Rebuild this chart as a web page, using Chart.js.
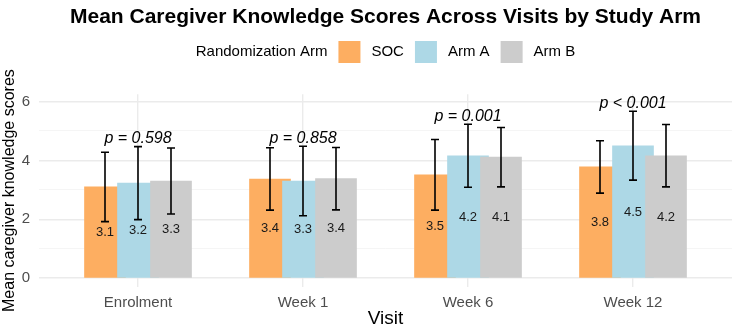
<!DOCTYPE html>
<html>
<head>
<meta charset="utf-8">
<script src="https://cdn.jsdelivr.net/npm/chart.js@4.4.1/dist/chart.umd.min.js"></script>
<style>
  html, body { margin: 0; padding: 0; background: #fff; }
  #wrap { width: 733px; height: 330px; }
</style>
</head>
<body>
<div id="wrap"><canvas id="chart" width="733" height="330"></canvas></div>
<script>
const visits = ["Enrolment", "Week 1", "Week 6", "Week 12"];
const arms = ["SOC", "Arm A", "Arm B"];
const armColors = ["#FDAE61", "#ADD8E6", "#CCCCCC"];

// mean scores per visit
const socMean = [3.10, 3.37, 3.51, 3.78];
const armAMean = [3.23, 3.30, 4.16, 4.50];
const armBMean = [3.30, 3.38, 4.11, 4.16];

// half-length of error bars (SD)
const socSd = [1.18, 1.06, 1.20, 0.89];
const armASd = [1.24, 1.18, 1.07, 1.17];
const armBSd = [1.12, 1.06, 1.01, 1.06];

const pLabels = ["p = 0.598", "p = 0.858", "p = 0.001", "p < 0.001"];

const yTicks = [0, 1, 2, 3, 4, 5, 6];

const FONT = "'Liberation Sans', Arial, sans-serif";
const means = [socMean, armAMean, armBMean];
const sds = [socSd, armASd, armBSd];
const dodge = [-0.2, 0, 0.2];

const datasets = arms.map((arm, i) => ({
  label: arm,
  data: means[i].map((m, j) => ({ x: j + 1 + dodge[i], y: m })),
  backgroundColor: armColors[i],
  borderWidth: 0,
  barThickness: 41,
  grouped: false,
  order: arms.length - i,
}));

// error bars, value labels and p-values
const annotations = {
  id: "annotations",
  afterDatasetsDraw(chart) {
    const ctx = chart.ctx;
    const y = chart.scales.y;
    const x = chart.scales.x;
    ctx.save();
    // error bars
    ctx.strokeStyle = "#000";
    ctx.lineWidth = 1.6;
    arms.forEach((arm, i) => {
      const meta = chart.getDatasetMeta(i);
      meta.data.forEach((el, j) => {
        const top = y.getPixelForValue(means[i][j] + sds[i][j]);
        const bot = y.getPixelForValue(means[i][j] - sds[i][j]);
        ctx.beginPath();
        ctx.moveTo(el.x, top);
        ctx.lineTo(el.x, bot);
        ctx.moveTo(el.x - 4, top);
        ctx.lineTo(el.x + 4, top);
        ctx.moveTo(el.x - 4, bot);
        ctx.lineTo(el.x + 4, bot);
        ctx.stroke();
      });
    });
    // value labels
    ctx.fillStyle = "#1a1a1a";
    ctx.font = "13px " + FONT;
    ctx.textAlign = "center";
    ctx.textBaseline = "middle";
    arms.forEach((arm, i) => {
      const meta = chart.getDatasetMeta(i);
      meta.data.forEach((el, j) => {
        ctx.fillText(means[i][j].toFixed(1), el.x, y.getPixelForValue(means[i][j] / 2));
      });
    });
    // p-values
    ctx.fillStyle = "#000";
    ctx.font = "italic 16px " + FONT;
    visits.forEach((v, j) => {
      const maxTop = Math.max(...arms.map((a, i) => means[i][j] + sds[i][j]));
      ctx.fillText(pLabels[j], x.getPixelForValue(j + 1), y.getPixelForValue(maxTop + 0.27));
    });
    ctx.restore();
  },
};

// ggplot-style legend: title, then key + label for each arm
const ggLegend = {
  id: "ggLegend",
  afterDraw(chart) {
    const ctx = chart.ctx;
    const area = chart.chartArea;
    const cy = 52;
    const key = 22;
    const gap = 11;
    ctx.save();
    ctx.font = "15px " + FONT;
    ctx.textBaseline = "middle";
    ctx.textAlign = "left";
    const title = "Randomization Arm";
    let total = ctx.measureText(title).width;
    chart.data.datasets.forEach((ds) => {
      total += gap + key + gap + ctx.measureText(ds.label).width;
    });
    let cx = (area.left + area.right) / 2 - total / 2;
    ctx.fillStyle = "#000";
    ctx.fillText(title, cx, cy);
    cx += ctx.measureText(title).width + gap;
    chart.data.datasets.forEach((ds) => {
      ctx.fillStyle = ds.backgroundColor;
      ctx.fillRect(cx, cy - key / 2, key, key);
      cx += key + gap;
      ctx.fillStyle = "#000";
      ctx.fillText(ds.label, cx, cy);
      cx += ctx.measureText(ds.label).width + gap;
    });
    ctx.restore();
  },
};

new Chart(document.getElementById("chart").getContext("2d"), {
  type: "bar",
  data: { datasets: datasets },
  options: {
    responsive: false,
    animation: false,
    layout: { padding: { top: 0, right: 1, bottom: 0, left: 0 } },
    plugins: {
      legend: { display: false },
      tooltip: { enabled: false },
      title: {
        display: true,
        fullSize: false,
        text: "Mean Caregiver Knowledge Scores Across Visits by Study Arm",
        color: "#000",
        font: { family: FONT, size: 21, weight: "bold" },
        padding: { top: 5, bottom: 64 },
      },
    },
    scales: {
      x: {
        type: "linear",
        min: 0.4,
        max: 4.6,
        offset: false,
        afterBuildTicks: (scale) => {
          scale.ticks = visits.map((v, i) => ({ value: i + 1 }));
        },
        afterFit: (scale) => {
          scale.height = 43;
        },
        ticks: {
          callback: (val) => visits[Math.round(val) - 1],
          color: "#4d4d4d",
          font: { family: FONT, size: 15 },
          padding: 7,
          maxRotation: 0,
          autoSkip: false,
        },
        grid: { color: "#ebebeb", lineWidth: 1.4, drawTicks: false, offset: false },
        border: { display: false },
        title: {
          display: true,
          text: "Visit",
          color: "#000",
          font: { family: FONT, size: 19 },
          padding: 0,
        },
      },
      y: {
        min: -0.3,
        max: 6.25,
        afterBuildTicks: (scale) => {
          scale.ticks = yTicks.map((v) => ({ value: v }));
        },
        afterFit: (scale) => {
          scale.width = 39;
        },
        ticks: {
          callback: (val) => (val % 2 === 0 ? val : ""),
          color: "#4d4d4d",
          font: { family: FONT, size: 15 },
          padding: 9,
        },
        grid: {
          color: (c) => (c.tick && c.tick.value % 2 === 0 ? "#ebebeb" : "#f3f3f3"),
          lineWidth: (c) => (c.tick && c.tick.value % 2 === 0 ? 1.4 : 0.8),
          drawTicks: false,
        },
        border: { display: false },
        title: {
          display: true,
          text: "Mean caregiver knowledge scores",
          color: "#000",
          font: { family: FONT, size: 16 },
          padding: 0,
        },
      },
    },
  },
  plugins: [annotations, ggLegend],
});
</script>
</body>
</html>
